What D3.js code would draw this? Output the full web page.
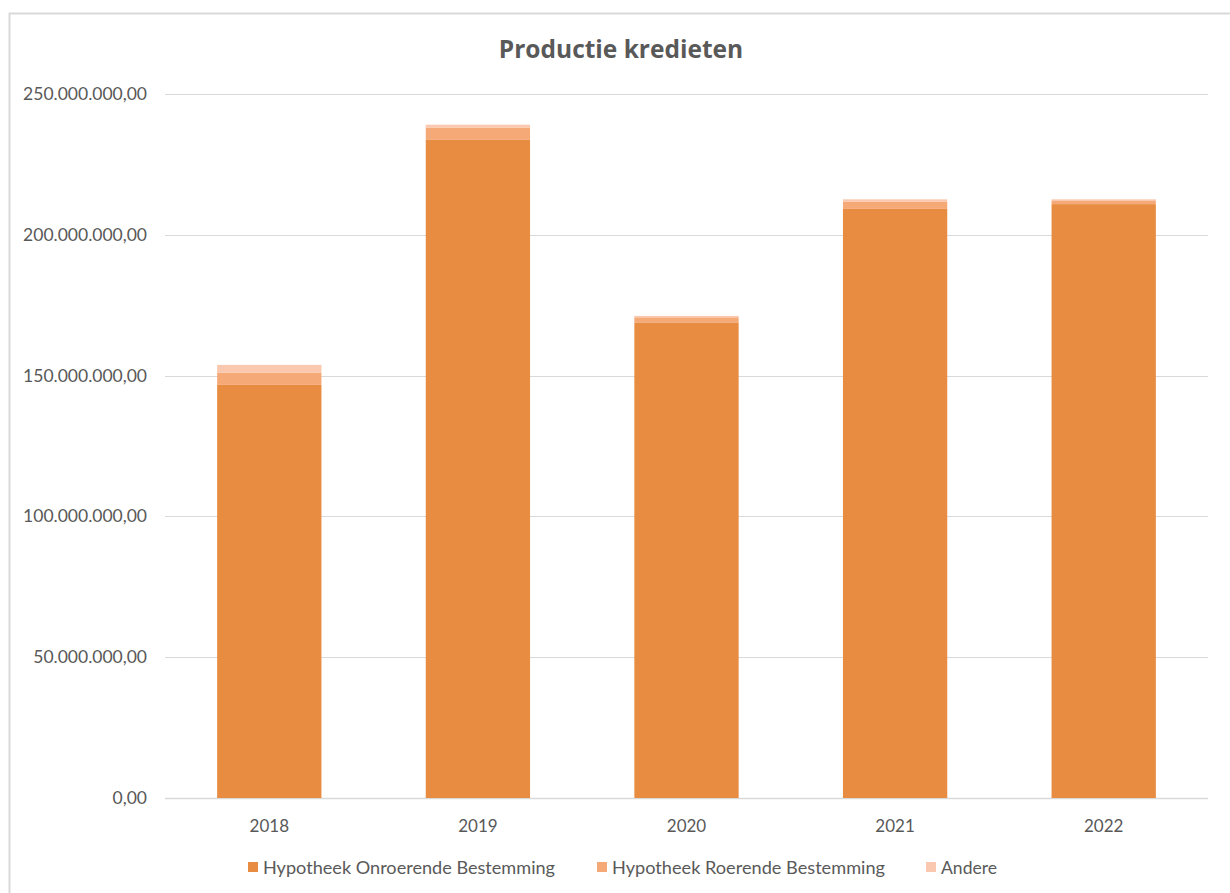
<!DOCTYPE html>
<html lang="nl">
<head>
<meta charset="UTF-8">
<title>Productie kredieten</title>
<style>
  html, body { margin: 0; padding: 0; background: #fff; overflow: hidden; }
  svg { display: block; font-family: Lato, "Open Sans", sans-serif; }
</style>
</head>
<body>
<svg id="chart" width="1230" height="893"></svg>
<script src="https://cdn.jsdelivr.net/npm/d3@7"></script>
<script>
// data
const years = ["2018", "2019", "2020", "2021", "2022"];
const onroerend = [146700000, 233700000, 168900000, 209200000, 210900000];
const roerend = [4400000, 4400000, 1800000, 2500000, 1100000];
const andere = [2700000, 1000000, 500000, 900000, 600000];
const seriesNames = ["Hypotheek Onroerende Bestemming", "Hypotheek Roerende Bestemming", "Andere"];
const seriesColors = ["#e88c42", "#f5a977", "#f9c8ae"];
const yTicks = [0, 50000000, 100000000, 150000000, 200000000, 250000000];

const svg = d3.select("#chart");
const margin = {left: 165, right: 1208, top: 94, bottom: 798};

// chart frame (top and left edges visible)
svg.append("path")
  .attr("d", "M9.5,893 L9.5,13.5 L1230,13.5")
  .attr("fill", "none").attr("stroke", "#d9d9d9").attr("stroke-width", 2);

const x = d3.scaleBand().domain(years).range([margin.left, margin.right]).paddingInner(0.5).paddingOuter(0.25);
const y = d3.scaleLinear().domain([0, 250000000]).range([margin.bottom, margin.top]);

const fmt = v => {
  const s = d3.format(",.2f")(v);
  return s.replace(/,/g, "#").replace(".", ",").replace(/#/g, ".");
};

// gridlines
svg.append("g").selectAll("line").data(yTicks).join("line")
  .attr("x1", margin.left).attr("x2", margin.right)
  .attr("y1", d => Math.round(y(d)) + 0.5).attr("y2", d => Math.round(y(d)) + 0.5)
  .attr("stroke", "#d9d9d9").attr("stroke-width", d => d === 0 ? 1.5 : 1);

// y labels
svg.append("g").selectAll("text").data(yTicks).join("text")
  .attr("x", 147).attr("y", d => y(d) + 6)
  .attr("text-anchor", "end").attr("font-size", 17.5).attr("fill", "#595959")
  .text(fmt);

// stacked bars
const rows = years.map((yr, i) => ({year: yr, s0: onroerend[i], s1: roerend[i], s2: andere[i]}));
const stack = d3.stack().keys(["s0", "s1", "s2"])(rows);
svg.append("g").selectAll("g").data(stack).join("g")
  .attr("fill", (d, i) => seriesColors[i])
  .selectAll("rect").data(d => d).join("rect")
  .attr("x", d => x(d.data.year))
  .attr("width", x.bandwidth())
  .attr("y", d => y(d[1]))
  .attr("height", d => y(d[0]) - y(d[1]));

// x labels
svg.append("g").selectAll("text").data(years).join("text")
  .attr("x", d => x(d) + x.bandwidth() / 2).attr("y", 832)
  .attr("text-anchor", "middle").attr("font-size", 17).attr("fill", "#595959")
  .text(d => d);

// title
svg.append("text").attr("x", 621).attr("y", 58)
  .attr("text-anchor", "middle").attr("font-size", 24.5).attr("font-weight", "bold")
  .attr("font-family", "'Open Sans', Lato, sans-serif")
  .attr("fill", "#595959").text("Productie kredieten");

// legend
const legendX = [248, 597, 926];
const legendW = [292, 273, 56];
const lg = svg.append("g").selectAll("g").data(seriesNames).join("g")
  .attr("transform", (d, i) => `translate(${legendX[i]},867)`);
lg.append("rect").attr("x", 0).attr("y", -5).attr("width", 10).attr("height", 10)
  .attr("fill", (d, i) => seriesColors[i]);
lg.append("text").attr("x", 15).attr("y", 6.5).attr("font-size", 18).attr("fill", "#595959")
  .attr("textLength", (d, i) => legendW[i]).attr("lengthAdjust", "spacingAndGlyphs")
  .text(d => d);
</script>
</body>
</html>
